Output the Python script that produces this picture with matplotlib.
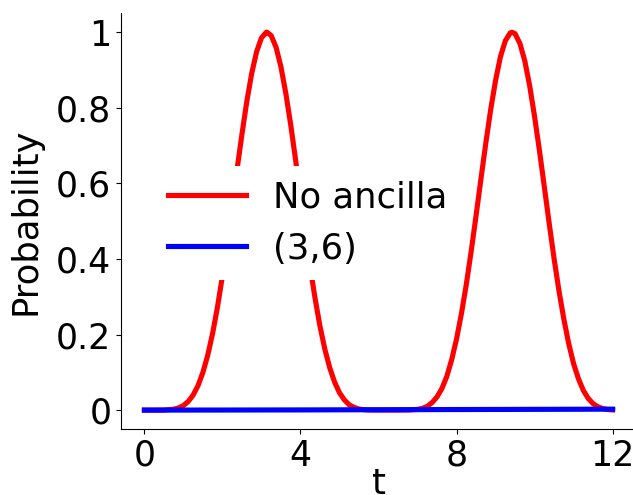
import matplotlib
matplotlib.use("Agg")
import matplotlib.pyplot as plt

# Data
t_red = [0.0, 0.25, 0.5, 0.75, 0.875, 1.0, 1.125, 1.25, 1.375, 1.5, 1.625, 1.75, 1.875,
         2.0, 2.125, 2.25, 2.375, 2.5, 2.625, 2.75, 2.875, 3.0, 3.125, 3.14, 3.25, 3.375,
         3.5, 3.625, 3.75, 3.875, 4.0, 4.125, 4.25, 4.375, 4.5, 4.625, 4.75, 4.875,
         5.0, 5.125, 5.25, 5.375, 5.5, 5.625, 5.75, 6.0, 6.25, 6.5, 6.75, 7.0, 7.125,
         7.25, 7.375, 7.5, 7.625, 7.75, 7.875, 8.0, 8.125, 8.25, 8.375, 8.5, 8.625,
         8.75, 8.875, 9.0, 9.125, 9.25, 9.375, 9.42, 9.5, 9.625, 9.75, 9.875, 10.0,
         10.125, 10.25, 10.375, 10.5, 10.625, 10.75, 10.875, 11.0, 11.125, 11.25,
         11.375, 11.5, 11.625, 11.75, 11.875, 12.0]
p_red = [0.0, 0.0, 0.0002, 0.0024, 0.0058, 0.012, 0.023, 0.040, 0.065, 0.100, 0.146,
         0.204, 0.274, 0.355, 0.445, 0.540, 0.637, 0.730, 0.817, 0.891, 0.948, 0.985,
         1.000, 1.0, 0.991, 0.960, 0.908, 0.838, 0.755, 0.662, 0.565, 0.469, 0.378,
         0.295, 0.222, 0.161, 0.112, 0.074, 0.046, 0.027, 0.014, 0.0071, 0.003, 0.0011,
         0.0003, 0.0, 0.0, 0.0, 0.0002, 0.0019, 0.0046, 0.010, 0.020, 0.035, 0.057,
         0.089, 0.133, 0.188, 0.255, 0.332, 0.420, 0.514, 0.611, 0.706, 0.795, 0.872,
         0.935, 0.977, 0.998, 1.0, 0.996, 0.970, 0.924, 0.858, 0.777, 0.687, 0.591,
         0.494, 0.401, 0.316, 0.241, 0.176, 0.123, 0.083, 0.052, 0.031, 0.017, 0.0087,
         0.004, 0.0015, 0.0005]
t_blue = [0.0, 2.0, 4.0, 6.0, 8.0, 10.0, 12.0]
p_blue = [0.0, 0.0002, 0.0005, 0.001, 0.0015, 0.002, 0.0025]

labels = ["No ancilla", "(3,6)"]
xticks = [0, 4, 8, 12]
xticklabels = ["0", "4", "8", "12"]
yticks = [0, 0.2, 0.4, 0.6, 0.8, 1.0]
yticklabels = ["0", "0.2", "0.4", "0.6", "0.8", "1"]

FS = 25.5
fig = plt.figure(figsize=(6.33, 4.95), dpi=100)
ax = fig.add_axes([121 / 633, 66 / 495, 515 / 633, (429 - 13.3) / 495])

ax.plot(t_red, p_red, color="red", lw=3.7, label=labels[0])
ax.plot(t_blue, p_blue, color="blue", lw=3.7, label=labels[1])

ax.set_xticks(xticks)
ax.set_xticklabels(xticklabels)
ax.set_yticks(yticks)
ax.set_yticklabels(yticklabels)
ax.tick_params(labelsize=25)
ax.spines["top"].set_visible(False)
ax.spines["right"].set_visible(False)
ax.set_xlabel("t", fontsize=FS, labelpad=-4)
ax.set_ylabel("Probability", fontsize=FS)
ax.yaxis.set_label_coords(-0.152, 0.5)

leg = ax.legend(loc="upper left", bbox_to_anchor=(154 / 633, 1 - 166 / 495),
                bbox_transform=fig.transFigure, borderaxespad=0,
                frameon=True, fancybox=False, framealpha=1.0,
                fontsize=FS, handlelength=2.2, handletextpad=0.75)
leg.get_frame().set_edgecolor("none")
leg.get_frame().set_facecolor("white")

fig.savefig("out.png", dpi=100)
